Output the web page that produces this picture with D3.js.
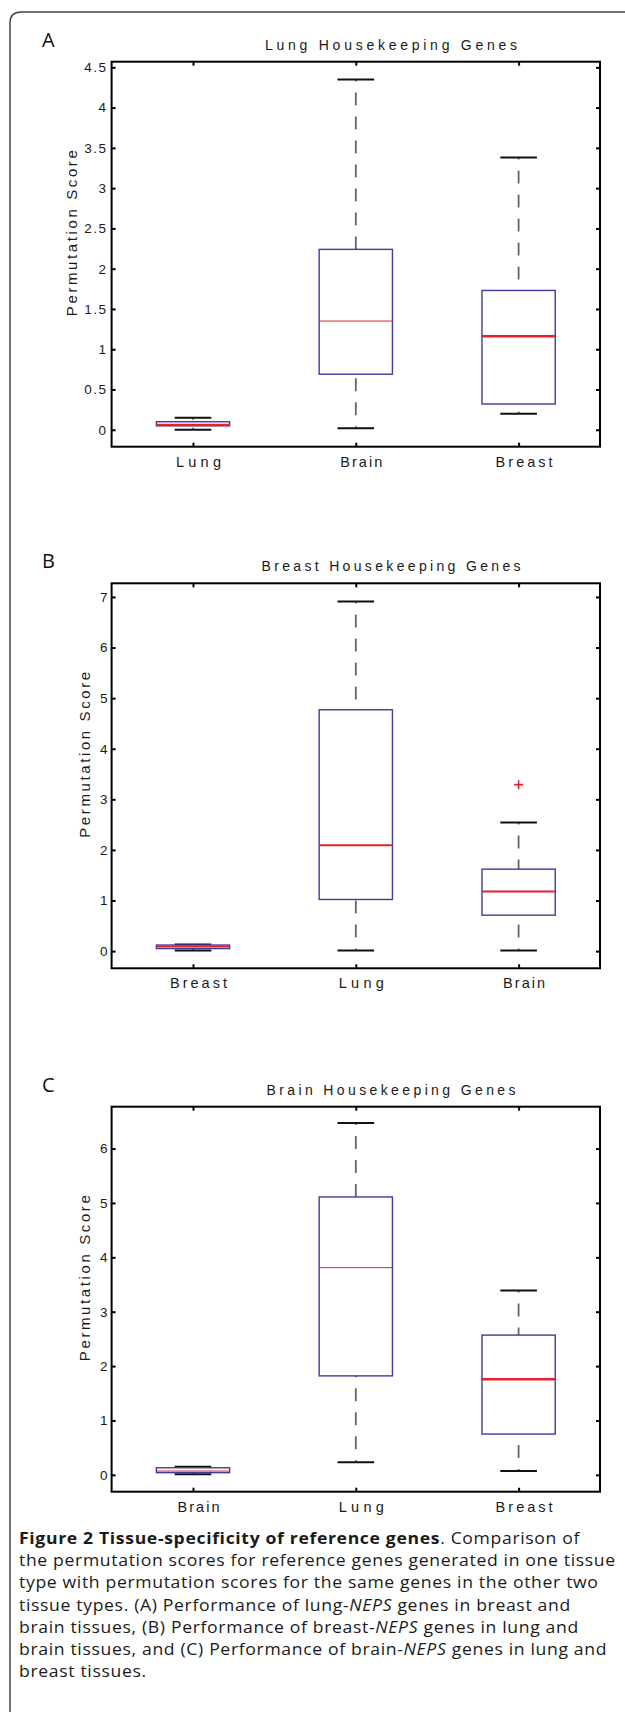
<!DOCTYPE html>
<html lang="en">
<head>
<meta charset="UTF-8" />
<title>Figure 2 Tissue-specificity of reference genes</title>
<script src="https://d3js.org/d3.v7.min.js"></script>
<style>
  body { margin: 0; background: #fff; }
  svg { display: block; }
  .tick text { font-family: "Liberation Sans", Arial, sans-serif; fill: #1a1a1a; }
  .tick line { stroke: #000; stroke-width: 2; }
</style>
</head>
<body>
<svg width="625" height="1712"></svg>
<script>
// ---- data ----
const panelLetters = ["A", "B", "C"];
const panelTitles = ["Lung Housekeeping Genes", "Breast Housekeeping Genes", "Brain Housekeeping Genes"];

const categoriesA = ["Lung", "Brain", "Breast"];
const categoriesB = ["Breast", "Lung", "Brain"];
const categoriesC = ["Brain", "Lung", "Breast"];

// [lower whisker, q1, median, q3, upper whisker]
const statsA = [[0.00, 0.05, 0.06, 0.10, 0.15], [0.02, 0.69, 1.35, 2.24, 4.35], [0.20, 0.32, 1.16, 1.73, 3.38]];
const statsB = [[0.01, 0.05, 0.09, 0.12, 0.13], [0.01, 1.02, 2.09, 4.77, 6.91], [0.01, 0.71, 1.18, 1.62, 2.54]];
const statsC = [[0.01, 0.04, 0.07, 0.13, 0.15], [0.23, 1.82, 3.81, 5.11, 6.47], [0.07, 0.75, 1.76, 2.57, 3.39]];

const outliersA = [[], [], []];
const outliersB = [[], [], [3.29]];
const outliersC = [[], [], []];

const yTicksA = [0, 0.5, 1, 1.5, 2, 2.5, 3, 3.5, 4, 4.5];
const yTicksB = [0, 1, 2, 3, 4, 5, 6, 7];
const yTicksC = [0, 1, 2, 3, 4, 5, 6];

const yDomainA = [-0.21, 4.57];
const yDomainB = [-0.34, 7.27];
const yDomainC = [-0.31, 6.77];

const captionLines = [
  [["b", "Figure 2 Tissue-specificity of reference genes"], ["n", ". Comparison of"]],
  [["n", "the permutation scores for reference genes generated in one tissue"]],
  [["n", "type with permutation scores for the same genes in the other two"]],
  [["n", "tissue types. (A) Performance of lung-"], ["i", "NEPS"], ["n", " genes in breast and"]],
  [["n", "brain tissues, (B) Performance of breast-"], ["i", "NEPS"], ["n", " genes in lung and"]],
  [["n", "brain tissues, and (C) Performance of brain-"], ["i", "NEPS"], ["n", " genes in lung and"]],
  [["n", "breast tissues."]]
];

// ---- layout ----
const left = 111.6, right = 600, plotH = 385;
const tops = [61.7, 583.3, 1106.7];
const yLabelX = [77, 90, 90];
const titleLen = [252, 259, 249];
const labelLen = { Lung: 45, Brain: 42, Breast: 57 };
const medianW = [[2.5, 1, 2.5], [2, 2, 2], [1, 1, 2.5]];
const capScaleX = 1.1;

const panels = [
  { cats: categoriesA, stats: statsA, out: outliersA, ticks: yTicksA, dom: yDomainA },
  { cats: categoriesB, stats: statsB, out: outliersB, ticks: yTicksB, dom: yDomainB },
  { cats: categoriesC, stats: statsC, out: outliersC, ticks: yTicksC, dom: yDomainC }
];

const svg = d3.select("svg");

// figure frame, rounded top-left corner
svg.append("path")
  .attr("d", "M10,1712 V23 Q10,12 21,12 H625")
  .attr("fill", "none")
  .attr("stroke", "#444")
  .attr("stroke-width", 1.5);

panels.forEach((p, i) => {
  const top = tops[i];
  const x = d3.scaleLinear().domain([0.5, 3.5]).range([left, right]);
  const y = d3.scaleLinear().domain(p.dom).range([top + plotH, top]);
  const g = svg.append("g");

  g.append("text")
    .attr("x", 42).attr("y", top - 15)
    .attr("font-family", "'Open Sans', sans-serif")
    .attr("font-size", 20)
    .attr("fill", "#111")
    .text(panelLetters[i]);

  g.append("text")
    .attr("x", 391).attr("y", top - 12)
    .attr("text-anchor", "middle")
    .attr("font-family", "'Liberation Sans', Arial, sans-serif")
    .attr("font-size", 14)
    .attr("fill", "#1a1a1a")
    .attr("textLength", titleLen[i])
    .attr("lengthAdjust", "spacing")
    .text(panelTitles[i]);

  g.append("text")
    .attr("transform", `translate(${yLabelX[i]},${top + plotH / 2 - 21}) rotate(-90)`)
    .attr("text-anchor", "middle")
    .attr("font-family", "'Liberation Sans', Arial, sans-serif")
    .attr("font-size", 15)
    .attr("fill", "#1a1a1a")
    .attr("textLength", 166)
    .attr("lengthAdjust", "spacing")
    .text("Permutation Score");

  // axes with inward ticks on all four sides
  const fmt = i === 0 ? d3.format(".1~f") : d3.format("d");
  g.append("g").attr("transform", `translate(${left},0)`)
    .call(d3.axisLeft(y).tickValues(p.ticks).tickSizeInner(-4).tickSizeOuter(0).tickPadding(4).tickFormat(fmt))
    .call(a => a.select(".domain").remove())
    .call(a => a.selectAll("text").attr("font-size", 13.5).attr("font-family", null)
      .attr("letter-spacing", i === 0 ? 1.5 : 0));
  g.append("g").attr("transform", `translate(${right},0)`)
    .call(d3.axisRight(y).tickValues(p.ticks).tickSizeInner(-4).tickSizeOuter(0).tickFormat(""))
    .call(a => a.select(".domain").remove());
  g.append("g").attr("transform", `translate(0,${top})`)
    .call(d3.axisTop(x).tickValues([1, 2, 3]).tickSizeInner(-4).tickSizeOuter(0).tickFormat(""))
    .call(a => a.select(".domain").remove());
  g.append("g").attr("transform", `translate(0,${top + plotH})`)
    .call(d3.axisBottom(x).tickValues([1, 2, 3]).tickSizeInner(-4).tickSizeOuter(0).tickFormat(d => p.cats[d - 1]))
    .call(a => a.select(".domain").remove())
    .call(a => a.selectAll("text")
      .attr("font-size", 14.5).attr("font-family", null)
      .attr("y", 20).attr("dy", null).attr("x", 5)
      .attr("textLength", d => labelLen[p.cats[d - 1]])
      .attr("lengthAdjust", "spacing"));

  g.append("rect")
    .attr("x", left).attr("y", top)
    .attr("width", right - left).attr("height", plotH)
    .attr("fill", "none").attr("stroke", "#000").attr("stroke-width", 2);

  const boxes = g.selectAll("g.box").data(p.stats).join("g").attr("class", "box");
  const bw = x(1.225) - x(1), cw = x(1.1125) - x(1);

  // whiskers
  boxes.append("line")
    .attr("x1", (d, j) => x(j + 1)).attr("x2", (d, j) => x(j + 1))
    .attr("y1", d => y(d[4])).attr("y2", d => y(d[3]))
    .attr("stroke", "#666").attr("stroke-width", 1.8)
    .attr("stroke-dasharray", "13,11").attr("stroke-dashoffset", 11);
  boxes.append("line")
    .attr("x1", (d, j) => x(j + 1)).attr("x2", (d, j) => x(j + 1))
    .attr("y1", d => y(d[0])).attr("y2", d => y(d[1]))
    .attr("stroke", "#666").attr("stroke-width", 1.8)
    .attr("stroke-dasharray", "13,11").attr("stroke-dashoffset", 11);
  // caps
  [0, 4].forEach(k => {
    boxes.append("line")
      .attr("x1", (d, j) => x(j + 1) - cw).attr("x2", (d, j) => x(j + 1) + cw)
      .attr("y1", d => y(d[k])).attr("y2", d => y(d[k]))
      .attr("stroke", "#111").attr("stroke-width", 2);
  });
  // box
  boxes.append("rect")
    .attr("x", (d, j) => x(j + 1) - bw)
    .attr("y", d => y(d[3]))
    .attr("width", 2 * bw)
    .attr("height", d => y(d[1]) - y(d[3]))
    .attr("fill", "#fff")
    .attr("stroke", "#3d3d9e").attr("stroke-width", 1.4);
  // median
  boxes.append("line")
    .attr("x1", (d, j) => x(j + 1) - bw).attr("x2", (d, j) => x(j + 1) + bw)
    .attr("y1", d => y(d[2])).attr("y2", d => y(d[2]))
    .attr("stroke", "#e8202a").attr("stroke-width", (d, j) => medianW[i][j]);

  // outliers as red plus marks
  p.out.forEach((vals, j) => {
    vals.forEach(v => {
      g.append("path")
        .attr("d", `M${x(j + 1) - 4.5},${y(v)}H${x(j + 1) + 4.5}M${x(j + 1)},${y(v) - 4.5}V${y(v) + 4.5}`)
        .attr("stroke", "#e8202a").attr("stroke-width", 1.6);
    });
  });
});

// caption: one text per line, slightly widened glyphs so the lines fill the width
const cap = svg.append("g").attr("transform", `scale(${capScaleX},1)`);
captionLines.forEach((line, k) => {
  const t = cap.append("text")
    .attr("x", 19 / capScaleX).attr("y", 1544 + k * 22.2)
    .attr("font-family", "'Open Sans', sans-serif")
    .attr("font-size", 16)
    .attr("letter-spacing", 0.6)
    .attr("fill", "#1a1a1a");
  line.forEach(([style, txt]) => {
    const s = t.append("tspan").text(txt);
    if (style === "b") s.attr("font-weight", "bold");
    if (style === "i") s.attr("font-style", "italic");
  });
});
</script>
</body>
</html>
